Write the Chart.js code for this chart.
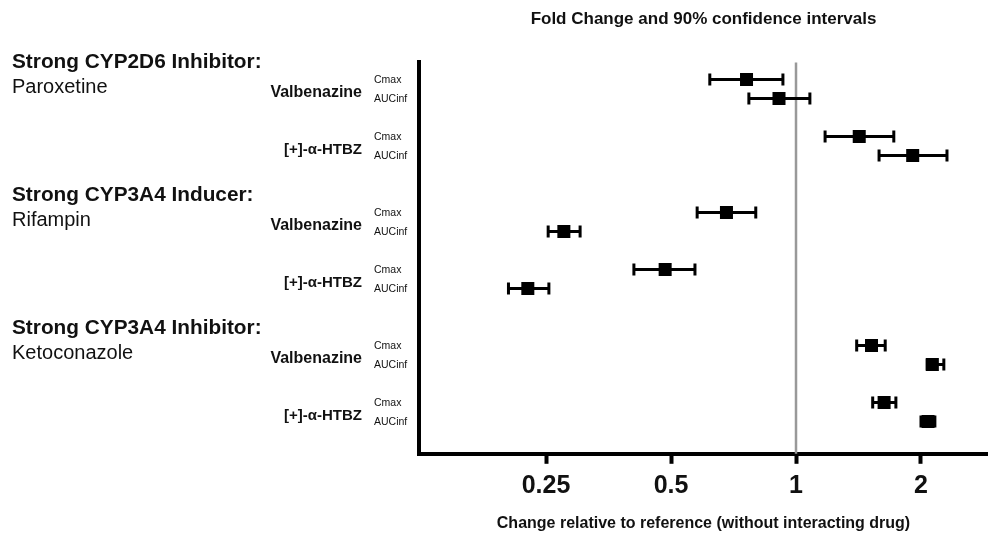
<!DOCTYPE html>
<html>
<head>
<meta charset="utf-8">
<script src="https://cdn.jsdelivr.net/npm/chart.js@4.4.1/dist/chart.umd.min.js"></script>
<style>
  html, body { margin: 0; padding: 0; background: #fff; overflow: hidden; }
  canvas { display: block; }
</style>
</head>
<body>
<canvas id="forest" width="988" height="542"></canvas>
<script>
/**
 * Forest plot: fold change of valbenazine / [+]-α-HTBZ exposure with interacting drugs
 */

const groups = ['Strong CYP2D6 Inhibitor:', 'Strong CYP3A4 Inducer:', 'Strong CYP3A4 Inhibitor:'];
const perpetrators = ['Paroxetine', 'Rifampin', 'Ketoconazole'];
const analytes = ['Valbenazine', '[+]-\u03b1-HTBZ'];
const params = ['Cmax', 'AUCinf'];

// rows in order: group -> analyte -> param
const foldChange = [0.76, 0.91, 1.42, 1.91, 0.68, 0.276, 0.484, 0.226, 1.52, 2.13, 1.63, 2.08];
const ciLow      = [0.62, 0.77, 1.175, 1.585, 0.578, 0.253, 0.407, 0.203, 1.40, 2.07, 1.53, 2.00];
const ciHigh     = [0.93, 1.08, 1.72, 2.31, 0.80, 0.302, 0.571, 0.254, 1.64, 2.27, 1.74, 2.16];
const xTicks = [0.25, 0.5, 1, 2];

const FONT = "'Liberation Sans', Arial, sans-serif";

// y slot for each row: 7 slots per group, 3 per analyte
function rowSlot(i) {
  const g = Math.floor(i / 4);
  const a = Math.floor((i % 4) / 2);
  const p = i % 2;
  return g * 7 + a * 3 + p;
}

const points = foldChange.map((v, i) => ({ x: v, y: rowSlot(i) }));

const forestPlugin = {
  id: 'forest',
  beforeDatasetsDraw(chart) {
    const { ctx, chartArea, scales: { x, y } } = chart;
    ctx.save();
    // reference line at 1
    const x1 = x.getPixelForValue(1);
    ctx.strokeStyle = '#999';
    ctx.lineWidth = 2.5;
    ctx.beginPath();
    ctx.moveTo(x1, chartArea.top);
    ctx.lineTo(x1, chartArea.bottom);
    ctx.stroke();

    // confidence interval whiskers
    ctx.strokeStyle = '#000';
    ctx.lineWidth = 3;
    foldChange.forEach((v, i) => {
      const py = y.getPixelForValue(rowSlot(i));
      const xl = x.getPixelForValue(ciLow[i]);
      const xh = x.getPixelForValue(ciHigh[i]);
      ctx.beginPath();
      ctx.moveTo(xl, py);
      ctx.lineTo(xh, py);
      ctx.moveTo(xl, py - 6);
      ctx.lineTo(xl, py + 6);
      ctx.moveTo(xh, py - 6);
      ctx.lineTo(xh, py + 6);
      ctx.stroke();
    });
    ctx.restore();
  },
  afterDraw(chart) {
    const { ctx, scales: { y } } = chart;
    ctx.save();
    ctx.fillStyle = '#111';
    ctx.textBaseline = 'middle';
    groups.forEach((g, gi) => {
      const top = y.getPixelForValue(gi * 7);
      ctx.textAlign = 'left';
      ctx.font = `bold 20.8px ${FONT}`;
      ctx.fillText(g, 12, top - 17);
      ctx.font = `20px ${FONT}`;
      ctx.fillText(perpetrators[gi], 12, top + 8);
      analytes.forEach((a, ai) => {
        const r0 = y.getPixelForValue(gi * 7 + ai * 3);
        const r1 = y.getPixelForValue(gi * 7 + ai * 3 + 1);
        ctx.textAlign = 'right';
        ctx.font = ai === 0 ? `bold 16px ${FONT}` : `bold 15px ${FONT}`;
        ctx.fillText(a, 362, (r0 + r1) / 2 + 4);
        ctx.textAlign = 'left';
        ctx.font = `10.5px ${FONT}`;
        ctx.fillText(params[0], 374, r0 + 1);
        ctx.fillText(params[1], 374, r1 + 1);
      });
    });
    ctx.restore();
  },
};

new Chart(document.getElementById('forest'), {
  type: 'scatter',
  data: {
    datasets: [{
      data: points,
      backgroundColor: '#000',
      borderWidth: 0,
      pointStyle: 'rect',
      pointRadius: 9.2,
      pointHoverRadius: 9.2,
    }],
  },
  options: {
    responsive: false,
    animation: false,
    layout: { autoPadding: false, padding: { left: 419, right: 0, top: 0, bottom: 5 } },
    plugins: {
      legend: { display: false },
      tooltip: { enabled: false },
      title: {
        display: true,
        text: 'Fold Change and 90% confidence intervals',
        color: '#111',
        font: { family: FONT, size: 17, weight: 'bold' },
        padding: { top: 9, bottom: 33 },
      },
    },
    scales: {
      x: {
        type: 'logarithmic',
        min: 0.1236,
        max: 2.9,
        afterBuildTicks: (scale) => { scale.ticks = xTicks.map((v) => ({ value: v })); },
        ticks: {
          color: '#111',
          font: { family: FONT, size: 25, weight: 'bold' },
          padding: 7,
          autoSkip: false,
          maxRotation: 0,
          callback: (v) => String(v),
        },
        grid: { display: true, drawOnChartArea: false, drawTicks: true, tickLength: 10, tickWidth: 4, tickColor: '#000' },
        border: { display: true, width: 4, color: '#000' },
        title: {
          display: true,
          text: 'Change relative to reference (without interacting drug)',
          color: '#111',
          font: { family: FONT, size: 16, weight: 'bold' },
          padding: { top: 6, bottom: 4 },
        },
      },
      y: {
        type: 'linear',
        reverse: true,
        min: -0.9,
        max: 19.7,
        ticks: { display: false },
        grid: { display: false, drawTicks: false },
        border: { display: true, width: 4, color: '#000' },
      },
    },
  },
  plugins: [forestPlugin],
});
</script>
</body>
</html>
